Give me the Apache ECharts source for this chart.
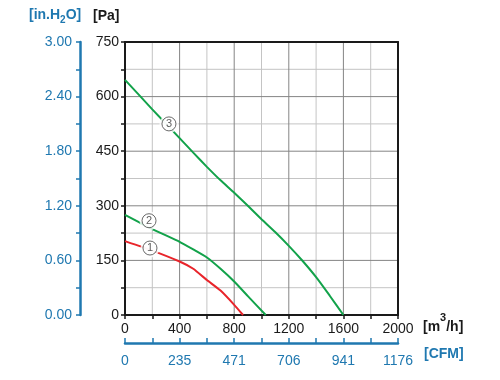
<!DOCTYPE html>
<html><head><meta charset="utf-8">
<script src="https://cdn.jsdelivr.net/npm/echarts@6/dist/echarts.min.js"></script>
<style>html,body{margin:0;padding:0;background:#fff}#c{width:500px;height:380px}</style>
</head><body><div id="c"></div>
<script>
// Fan curves: air flow [m³/h] vs static pressure [Pa]
const flow1 = [0, 200, 400, 500, 600, 700, 800, 865];
const pa1   = [203, 177, 147, 127, 96, 67, 28, 0];
const flow2 = [0, 200, 400, 500, 600, 700, 800, 900, 1031];
const pa2   = [275, 236, 201, 180, 158, 127, 92, 52, 0];
const flow3 = [0, 200, 400, 500, 600, 700, 800, 900, 1000, 1100, 1200, 1300, 1400, 1500, 1600];
const pa3   = [646, 565, 486, 446, 407, 370, 336, 300, 263, 228, 190, 149, 104, 53, 0];
// curve tag positions (m³/h, Pa) and texts
const tagFlow = [183, 176, 322];
const tagPa   = [184, 259, 525];
const tagText = ['1', '2', '3'];
// tick labels
const cfmLabels = ['0', '235', '471', '706', '941', '1176'];

const BLUE = '#1f78b0';
const RED = '#e8242a';
const GREEN = '#12a24a';
const DARK = '#858585';
const LIGHT = '#c4c4c4';
const INK = '#1a1a1a';
const FONT = 'Liberation Sans, Arial, sans-serif';
const X_MAX = 2000, Y_MAX = 750;

const zip = (a, b) => a.map((v, i) => [v, b[i]]);

// grid lines: [value, orientation(0 = vertical, 1 = horizontal)], light ones first
const gridData = [];
[false, true].forEach(major => {
  for (let v = 200; v < X_MAX; v += 200) if ((v % 400 === 0) === major) gridData.push([v, 0]);
  for (let v = 75; v < Y_MAX; v += 75) if ((v % 150 === 0) === major) gridData.push([v, 1]);
});

function renderGrid(params, api) {
  const v = api.value(0), o = api.value(1);
  const a = o === 0 ? api.coord([v, 0]) : api.coord([0, v]);
  const b = o === 0 ? api.coord([v, Y_MAX]) : api.coord([X_MAX, v]);
  const major = o === 0 ? v % 400 === 0 : v % 150 === 0;
  const shape = o === 0
    ? {x1: a[0], y1: a[1] - 1, x2: b[0], y2: b[1] + 1}
    : {x1: a[0] + 1, y1: a[1], x2: b[0] - 1, y2: b[1]};
  return {type: 'line', shape, style: {stroke: major ? DARK : LIGHT, lineWidth: 1}};
}

const tagPoints = tagFlow.map((f, i) => ({value: [f, tagPa[i]], name: tagText[i]}));

const chart = echarts.init(document.getElementById('c'));
chart.setOption({
  animation: false,
  textStyle: {fontFamily: FONT},
  grid: {left: 125, right: 102, top: 42, bottom: 65},
  xAxis: [
    {
      type: 'value', position: 'bottom', min: 0, max: X_MAX, interval: 400,
      axisLine: {show: true, onZero: false, lineStyle: {color: INK, width: 2}},
      axisTick: {show: true, length: 4, lineStyle: {color: INK, width: 1.5}},
      minorTick: {show: true, splitNumber: 2, length: 4, lineStyle: {color: INK, width: 1.5}},
      splitLine: {show: false},
      axisLabel: {color: INK, fontSize: 14, margin: 7, formatter: v => String(v)}
    },
    {
      type: 'value', position: 'bottom', offset: 28, min: 0, max: X_MAX, interval: 400,
      axisLine: {show: true, onZero: false, lineStyle: {color: BLUE, width: 2.5}},
      axisTick: {show: true, inside: true, length: 5, lineStyle: {color: BLUE, width: 1.5}},
      minorTick: {show: true, splitNumber: 2, length: 5, lineStyle: {color: BLUE, width: 1.5}},
      splitLine: {show: false},
      axisLabel: {color: BLUE, fontSize: 14, margin: 11,
        formatter: v => cfmLabels[Math.round(v / 400)]}
    },
    {
      type: 'value', position: 'top', min: 0, max: X_MAX,
      axisLine: {show: true, onZero: false, lineStyle: {color: INK, width: 2}},
      axisTick: {show: false}, axisLabel: {show: false}, splitLine: {show: false}
    }
  ],
  yAxis: [
    {
      type: 'value', position: 'left', min: 0, max: Y_MAX, interval: 150,
      axisLine: {show: true, onZero: false, lineStyle: {color: INK, width: 2}},
      axisTick: {show: true, length: 4, lineStyle: {color: INK, width: 1.5}},
      minorTick: {show: true, splitNumber: 2, length: 4, lineStyle: {color: INK, width: 1.5}},
      splitLine: {show: false},
      axisLabel: {color: INK, fontSize: 14, margin: 6}
    },
    {
      type: 'value', position: 'left', offset: 45, min: 0, max: 3, interval: 0.6,
      axisLine: {show: true, onZero: false, lineStyle: {color: BLUE, width: 2.5}},
      axisTick: {show: true, length: 4, lineStyle: {color: BLUE, width: 1.5}},
      minorTick: {show: true, splitNumber: 2, length: 4, lineStyle: {color: BLUE, width: 1.5}},
      splitLine: {show: false},
      axisLabel: {color: BLUE, fontSize: 14, margin: 8, formatter: v => v.toFixed(2)}
    },
    {
      type: 'value', position: 'right', min: 0, max: Y_MAX,
      axisLine: {show: true, onZero: false, lineStyle: {color: INK, width: 2}},
      axisTick: {show: false}, axisLabel: {show: false}, splitLine: {show: false}
    }
  ],
  series: [
    {
      type: 'custom', zlevel: 1, z: 0, silent: true, clip: false,
      xAxisIndex: 0, yAxisIndex: 0, encode: {x: 0, y: 1},
      data: gridData, renderItem: renderGrid
    },
    {type: 'line', zlevel: 2, z: 2, data: zip(flow1, pa1), showSymbol: false, smooth: 0.15,
     lineStyle: {color: RED, width: 2}},
    {type: 'line', zlevel: 2, z: 2, data: zip(flow2, pa2), showSymbol: false, smooth: 0.15,
     lineStyle: {color: GREEN, width: 2}},
    {type: 'line', zlevel: 2, z: 2, data: zip(flow3, pa3), showSymbol: false, smooth: 0.15,
     lineStyle: {color: GREEN, width: 2}},
    {
      // white halo that breaks the curves around each tag
      type: 'scatter', zlevel: 2, z: 3, symbol: 'circle', symbolSize: 19, silent: true,
      data: tagPoints, itemStyle: {color: '#ffffff'}, label: {show: false}
    },
    {
      type: 'scatter', zlevel: 2, z: 4, symbol: 'circle', symbolSize: 14,
      data: tagPoints,
      itemStyle: {color: '#ffffff', borderColor: '#444', borderWidth: 1},
      label: {show: true, position: 'inside', formatter: p => p.name, color: '#333', fontSize: 11}
    }
  ],
  graphic: [
    {type: 'text', left: 29, top: 8, style: {
      rich: {
        a: {fontSize: 14, fontWeight: 'bold', fill: BLUE, lineHeight: 20, verticalAlign: 'middle'},
        s: {fontSize: 10, fontWeight: 'bold', fill: BLUE, lineHeight: 10, verticalAlign: 'bottom'}
      },
      text: '{a|[in.H}{s|2}{a|O]}'
    }},
    {type: 'text', left: 93, top: 9, style: {text: '[Pa]', fontSize: 14, fontWeight: 'bold', fill: INK}},
    {type: 'text', left: 423, top: 312, style: {
      rich: {
        a: {fontSize: 14, fontWeight: 'bold', fill: INK, lineHeight: 30, verticalAlign: 'middle'},
        s: {fontSize: 11, fontWeight: 'bold', fill: INK, lineHeight: 11, verticalAlign: 'top'}
      },
      text: '{a|[m}{s|3}{a|/h]}'
    }},
    {type: 'text', left: 424, top: 347, style: {text: '[CFM]', fontSize: 14, fontWeight: 'bold', fill: BLUE}}
  ]
});
</script></body></html>
